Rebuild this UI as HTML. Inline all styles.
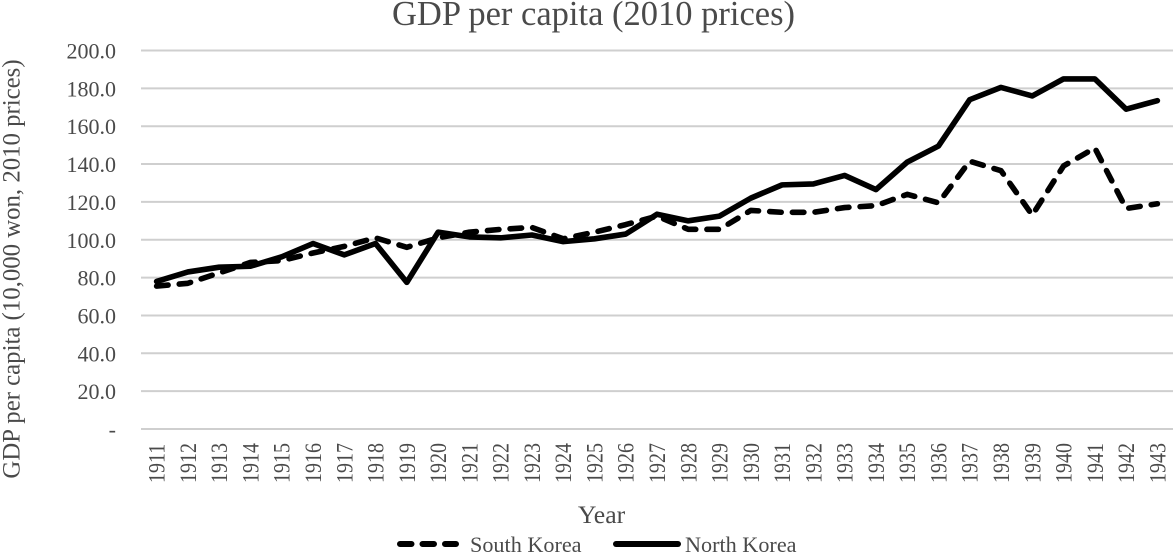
<!DOCTYPE html>
<html lang="en">
<head>
<meta charset="utf-8">
<title>GDP per capita (2010 prices)</title>
<style>
html,body{margin:0;padding:0;background:#fff;width:1175px;height:553px;overflow:hidden}
svg{display:block}
text{font-family:"Liberation Serif",serif;fill:#4a4a4a}
</style>
</head>
<body>
<svg id="chart" width="1175" height="553" viewBox="0 0 1175 553" xmlns="http://www.w3.org/2000/svg">
  <text x="593.5" y="25" text-anchor="middle" font-size="34.5">GDP per capita (2010 prices)</text>
  <text transform="translate(19.5,269) rotate(-90)" text-anchor="middle" font-size="24.8">GDP per capita (10,000 won, 2010 prices)</text>
  <text x="601.5" y="523" text-anchor="middle" font-size="25.7">Year</text>
  <g id="grid"></g>
  <g id="ylabels"></g>
  <g id="xlabels"></g>
  <g id="series"></g>
  <g>
    <line x1="400" y1="544" x2="456" y2="544" stroke="#000" stroke-width="6" stroke-linecap="round" stroke-dasharray="11.5 11"></line>
    <text x="470" y="552" font-size="22.2">South Korea</text>
    <line x1="616" y1="544" x2="678" y2="544" stroke="#000" stroke-width="6" stroke-linecap="round"></line>
    <text x="685" y="552" font-size="22.2">North Korea</text>
  </g>
</svg>
<script>
const years = [1911,1912,1913,1914,1915,1916,1917,1918,1919,1920,1921,1922,1923,1924,1925,1926,1927,1928,1929,1930,1931,1932,1933,1934,1935,1936,1937,1938,1939,1940,1941,1942,1943];
const southKorea = [75.5,77,82.5,88,89,93,96.5,101,96,101,104,105.5,106.5,100.5,104,108,112.5,105.5,105.5,115.5,114.5,114.5,117,118,124,119.5,141.5,136.5,113,139,148.5,116.5,119];
const northKorea = [78,83,85.5,86,91,98,92,98,77.5,104,101.5,101,102.5,99,100.5,103,113.5,110,112.5,122,129,129.5,134,126.5,141,149.5,174,180.5,176,185,185,169,173.5];
const yTicks = [0,20,40,60,80,100,120,140,160,180,200];
const yTickLabels = ["-","20.0","40.0","60.0","80.0","100.0","120.0","140.0","160.0","180.0","200.0"];

const NS = "http://www.w3.org/2000/svg";
const plotLeft = 141, plotRight = 1173, plotTop = 50.5, plotBottom = 429;
const yMax = 200;
function yScale(v){ return plotBottom - (v / yMax) * (plotBottom - plotTop); }
function xScale(i){ return plotLeft + (i + 0.5) * (plotRight - plotLeft) / years.length; }
function svgEl(tag, attrs){
  const el = document.createElementNS(NS, tag);
  for (const k in attrs) el.setAttribute(k, attrs[k]);
  return el;
}

const grid = document.getElementById('grid');
const ylabels = document.getElementById('ylabels');
yTicks.forEach(function(t, i){
  const line = svgEl('line', {x1: plotLeft, x2: plotRight, y1: yScale(t), y2: yScale(t), stroke: '#cfcfcf', 'stroke-width': 2});
  
  
  grid.appendChild(line);
  const label = svgEl('text', {x: 116, y: yScale(t) + 8, 'text-anchor': 'end', 'font-size': 22});
  
  
  label.textContent = yTickLabels[i];
  ylabels.appendChild(label);
});

const xlabels = document.getElementById('xlabels');
years.forEach(function(y, i){
  const px = xScale(i) + 8;
  const label = svgEl('text', {transform: 'translate(' + px + ',483) rotate(-90) scale(0.85,1)', 'font-size': 23.5});
  
  
  label.textContent = y;
  xlabels.appendChild(label);
});

function toPoints(values){
  return values.map(function(v, i){ return xScale(i) + ',' + yScale(v); }).join(' ');
}
const series = document.getElementById('series');
const southLine = svgEl('polyline', {points: toPoints(southKorea), fill: 'none', stroke: '#000', 'stroke-width': 5.6, 'stroke-linecap': 'round', 'stroke-linejoin': 'round', 'stroke-dasharray': '11.5 11.2'});


series.appendChild(southLine);
const northLine = svgEl('polyline', {points: toPoints(northKorea), fill: 'none', stroke: '#000', 'stroke-width': 5.6, 'stroke-linecap': 'round', 'stroke-linejoin': 'round'});


series.appendChild(northLine);
</script>
</body>
</html>
